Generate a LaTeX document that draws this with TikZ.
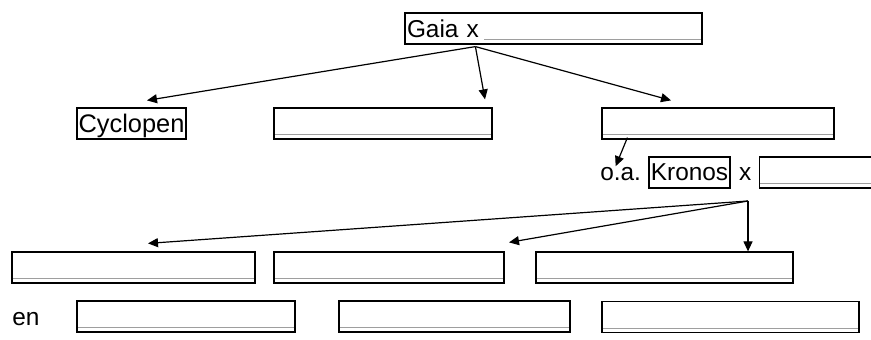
\documentclass[tikz,border=0pt]{standalone}
\usepackage{fontspec}
\setmainfont{Liberation Sans}
\usetikzlibrary{positioning, calc, arrows.meta}
\tikzset{fieldline/.style={draw=black!38, line width=0.5pt}}
\tikzset{field/.style={draw, line width=0.6pt, inner sep=0pt, minimum height=15.5pt, path picture={\draw[fieldline] ([xshift=#1, yshift=2pt]path picture bounding box.south west) -- ([yshift=2pt]path picture bounding box.south east);}}, field/.default=0pt}
\tikzset{lbl/.style={font=\fontsize{12.2}{14}\selectfont, inner sep=0.5pt}}
\tikzset{namebox/.style={lbl, draw, line width=0.6pt, inner sep=0.75pt, minimum height=15.5pt}}
\tikzset{arr/.style={draw, line width=0.6pt, -{Triangle[length=5pt, width=4.5pt]}}}

\begin{document}
\begin{tikzpicture}[x=0.5pt, y=-0.5pt]
	\clip (0,0) rectangle (871,340);
	% top
	\node[field=39.5pt, lbl, text width=146.5pt, align=left, inner sep=1pt, minimum height=15.5pt] (gaia) at (553.5,28.5) {Gaia x};
	% first row
	\node[namebox, font=\fontsize{12.7}{15}\selectfont, minimum width=54.5pt, text height=9.5pt, text depth=0pt] (cyc) at (131.5,123.5) {Cyclopen};
	\node[field, minimum width=109pt] (f1) at (383,123.5) {};
	\node[field, minimum width=116pt] (f2) at (718,123.5) {};
	% kronos
	\node[namebox, minimum width=40.5pt] (kronos) at (689.5,172.5) {Kronos};
	\node[lbl, base left=3pt of kronos] (oa) {o.a.};
	\node[lbl, base right=3.5pt of kronos] (kx) {x};
	\node[field, minimum width=65pt, anchor=west] (kfield) at (759,172.5) {};
	% children
	\node[field, minimum width=121.5pt] (r1) at (133.5,267.5) {};
	\node[field, minimum width=115pt] (r2) at (389,267.5) {};
	\node[field, minimum width=128.5pt] (r3) at (664.5,267.5) {};
	\node[lbl, anchor=base west] (en) at (11,326) {en};
	\node[field, minimum width=109pt] (b1) at (186,316.5) {};
	\node[field, minimum width=115.5pt] (b2) at (454.5,316.5) {};
	\node[field, minimum width=128.5pt] (b3) at (730.5,317) {};
	% arrows
	\coordinate (groot) at ([xshift=35.5pt, yshift=-1pt]gaia.south west);
	\draw[arr] (groot) -- ([xshift=7.75pt, yshift=3.5pt]cyc.north);
	\draw[arr] (groot) -- ([xshift=51pt, yshift=4pt]f1.north);
	\draw[arr] (groot) -- ([xshift=-23.5pt, yshift=3.5pt]f2.north);
	\draw[arr] ([xshift=13pt, yshift=1pt]f2.south west) -- ([xshift=-2.5pt]oa.north);
	\coordinate (kroot) at (748,201);
	\draw[arr] (kroot) -- ([xshift=7.25pt, yshift=4pt]r1.north);
	\draw[arr] (kroot) -- ([xshift=60pt, yshift=4.5pt]r2.north);
	\draw[arr] (kroot) -- (kroot |- r3.north);
\end{tikzpicture}
\end{document}
